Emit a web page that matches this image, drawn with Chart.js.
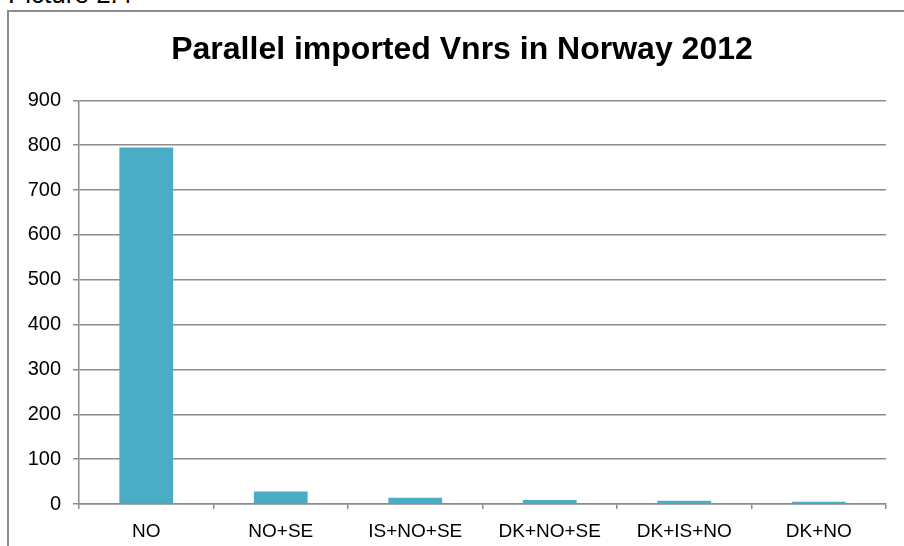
<!DOCTYPE html>
<html>
<head>
<meta charset="utf-8">
<script src="https://cdn.jsdelivr.net/npm/chart.js@4.4.1/dist/chart.umd.min.js"></script>
<style>
  html, body { margin: 0; padding: 0; background: #fff; overflow: hidden; width: 904px; height: 546px; }
  #caption { position: absolute; left: 8px; top: -19px; font: 26px "Liberation Sans", Arial, sans-serif; line-height: 26px; color: #000; }
  #frame { position: absolute; left: 7px; top: 10px; width: 906px; height: 560px; border: 2px solid #8c8c8c; overflow: hidden; }
  #chart { display: block; }
</style>
</head>
<body>
<div id="caption">Picture 2.4</div>
<div id="frame"><canvas id="chart" width="906" height="560"></canvas></div>
<script>
// Dados
const categorias = ['NO', 'NO+SE', 'IS+NO+SE', 'DK+NO+SE', 'DK+IS+NO', 'DK+NO'];
const valores = [795, 28, 14, 9, 7, 5];
const titulo = 'Parallel imported Vnrs in Norway 2012';
const yMin = 0;
const yMax = 900;
const yPasso = 100;

const cinza = '#8c8c8c';
const fonte = '"Liberation Sans", Arial, sans-serif';

// Centraliza o título na largura total do quadro (não só na área com padding)
const tituloCentrado = {
    id: 'tituloCentrado',
    afterLayout(chart) {
        if (chart.titleBlock) {
            chart.titleBlock.left = 0;
            chart.titleBlock.right = chart.width;
        }
    }
};

const ctx = document.getElementById('chart').getContext('2d');
const grafico = new Chart(ctx, {
    type: 'bar',
    data: {
        labels: categorias,
        datasets: [{
            data: valores,
            backgroundColor: '#4bacc6',
            borderWidth: 0,
            categoryPercentage: 1,
            barPercentage: 0.4
        }]
    },
    options: {
        responsive: false,
        animation: false,
        layout: { padding: { left: 0, right: 29, top: 19, bottom: 0 } },
        plugins: {
            legend: { display: false },
            tooltip: { enabled: false },
            title: {
                display: true,
                text: titulo,
                color: '#000',
                font: { family: fonte, size: 32, weight: 'bold' },
                padding: { top: 0, bottom: 31 }
            }
        },
        scales: {
            x: {
                afterFit: (scale) => { scale.height = 68; },
                grid: { drawOnChartArea: false, offset: true, tickLength: 5, color: cinza, lineWidth: 1.5 },
                border: { display: true, color: cinza, width: 1.5 },
                ticks: { color: '#000', font: { family: fonte, size: 19 }, padding: 11, maxRotation: 0 }
            },
            y: {
                min: yMin,
                max: yMax,
                afterFit: (scale) => { scale.width = 70; },
                grid: { color: cinza, lineWidth: 1.5, tickLength: 6 },
                border: { display: true, color: cinza, width: 1.5 },
                ticks: { stepSize: yPasso, color: '#000', font: { family: fonte, size: 20 }, padding: 12 }
            }
        }
    },
    plugins: [tituloCentrado]
});
</script>
</body>
</html>
